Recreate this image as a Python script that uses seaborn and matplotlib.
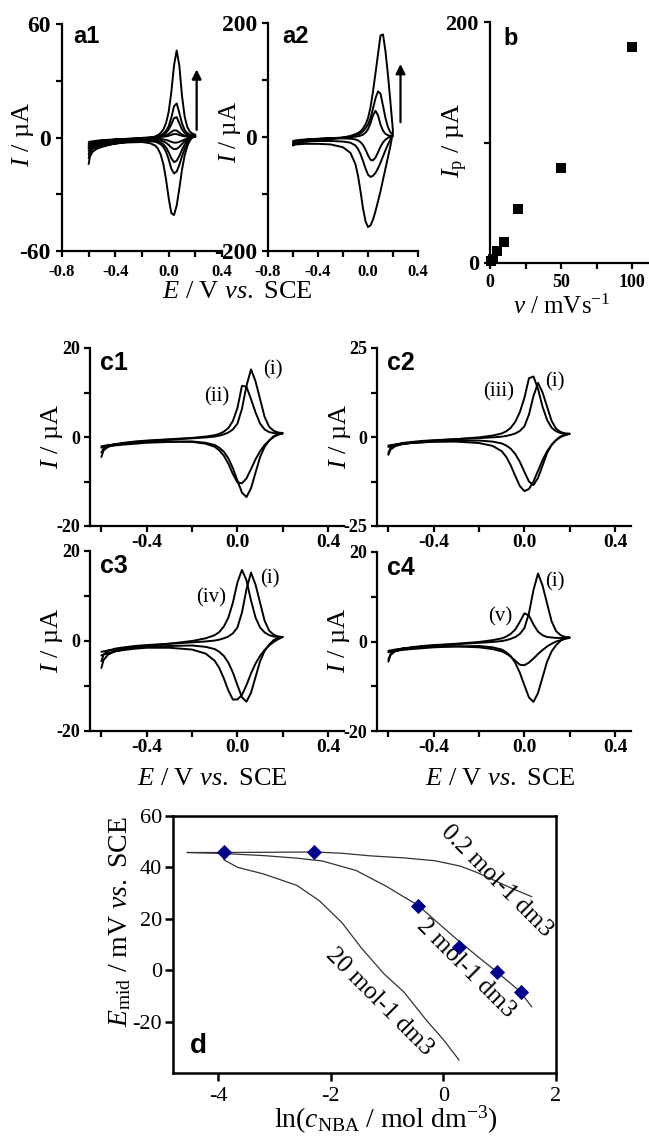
import matplotlib
matplotlib.use("Agg")
import matplotlib.pyplot as plt
import pandas as pd
import seaborn as sns

# ---------------------------------------------------------------- data
# potential grid of the scans (V vs. SCE); currents below are read on it
E_SCAN = [-0.60, -0.59, -0.57, -0.54, -0.50, -0.45, -0.40, -0.30, -0.20, -0.14,
          -0.10, -0.08, -0.06, -0.04, -0.02, 0.00, 0.02, 0.04, 0.06, 0.08,
          0.10, 0.12, 0.14, 0.16, 0.18, 0.20]
# forward branches listed from -0.60 to 0.20, reverse branches from 0.20 to -0.60 (µA)
V1_FWD = [-4.5, -3.4, -2.7, -2.2, -1.8, -1.4, -1.1, -0.6, -0.2, 0.0, 0.1, 0.2, 0.3, 0.4, 0.6, 0.9, 1.4, 1.8, 1.8, 1.3, 0.9, 0.6, 0.5, 0.4, 0.4, 0.4]
V1_REV = [0.4, 0.1, -0.2, -0.6, -1.1, -1.7, -2.3, -2.7, -2.7, -2.3, -1.7, -1.3, -1.0, -0.8, -0.7, -0.6, -0.6, -0.6, -0.8, -1.0, -1.2, -1.4, -1.7, -2.0, -2.2, -2.4]
V2_FWD = [-6, -4.5, -3.5, -2.8, -2.3, -1.8, -1.4, -0.8, -0.3, 0.0, 0.2, 0.3, 0.5, 0.8, 1.2, 1.9, 2.9, 3.8, 3.7, 2.6, 1.6, 1.0, 0.7, 0.6, 0.6, 0.6]
V2_REV = [0.6, 0.2, -0.3, -1.0, -2.0, -3.4, -5.0, -6.0, -6.2, -5.3, -3.9, -2.8, -2.1, -1.7, -1.4, -1.2, -1.0, -1.0, -1.2, -1.5, -1.8, -2.1, -2.5, -2.9, -3.2, -3.4]
V5_FWD = [-9, -6.5, -5.0, -4.0, -3.3, -2.6, -2.0, -1.2, -0.5, -0.1, 0.2, 0.5, 0.9, 1.5, 2.5, 4.2, 7.0, 10.2, 10.8, 7.5, 4.3, 2.4, 1.5, 1.1, 0.9, 0.8]
V5_REV = [0.8, 0.2, -0.6, -1.8, -3.7, -6.5, -9.8, -12.3, -13.0, -11.0, -7.8, -5.2, -3.6, -2.7, -2.1, -1.8, -1.5, -1.4, -1.6, -2.0, -2.3, -2.7, -3.2, -3.7, -4.1, -4.4]
V10_FWD = [-11, -8, -6.0, -4.8, -4.0, -3.2, -2.5, -1.5, -0.7, -0.2, 0.3, 0.7, 1.2, 2.0, 3.5, 6.0, 10.5, 16.5, 18.0, 13.0, 7.5, 4.0, 2.3, 1.5, 1.2, 1.0]
V10_REV = [1.0, 0.2, -1.0, -3.0, -6.0, -10.0, -14.5, -18.0, -19.0, -16.5, -11.5, -7.5, -5.0, -3.6, -2.8, -2.3, -1.9, -1.7, -2.0, -2.5, -2.9, -3.4, -4.0, -4.6, -5.2, -5.6]
V20_FWD = [-14, -10, -7.5, -6.0, -5.0, -4.0, -3.2, -2.0, -1.0, -0.2, 0.6, 1.3, 2.4, 4.2, 7.5, 13.5, 24, 38, 46, 38, 22, 11, 5.5, 3.0, 2.0, 1.5]
V20_REV = [1.5, 0.5, -1.5, -4.5, -9.5, -17, -27, -36, -41, -40, -32, -22, -14, -9.0, -6.0, -4.3, -3.0, -2.4, -2.6, -3.2, -3.7, -4.3, -5.0, -5.8, -6.5, -7.0]
V50_FWD = [-10, -8, -7, -6, -5.5, -5, -4.3, -3, -1, 1, 3, 4.5, 6.5, 10, 15, 22, 33, 50, 68, 80, 76, 55, 33, 17, 8, 4]
V50_REV = [4, -4, -13, -23, -34, -45, -55, -63, -68, -70, -66, -55, -42, -30, -21, -15, -10, -8, -7, -7, -7.5, -8, -8.5, -9, -9.5, -10]
V100_FWD = [-15, -12, -10, -9, -8, -7, -6, -4, -1, 2, 5, 7, 10, 15, 22, 33, 52, 80, 112, 145, 178, 180, 150, 108, 60, 10]
V100_REV = [10, -15, -35, -55, -75, -95, -113, -130, -145, -155, -158, -148, -125, -95, -68, -48, -28, -18, -13, -12, -12, -12, -12.5, -13, -13.5, -14]

# c panels: curves (i)-(v)
CI_FWD = [-4.5, -3.0, -2.2, -1.7, -1.4, -1.1, -0.9, -0.6, -0.3, -0.1, 0.1, 0.3, 0.6, 1.0, 1.7, 3.0, 6.3, 11.5, 15.2, 12.5, 8.5, 4.5, 2.3, 1.4, 1.0, 0.9]
CI_REV = [0.9, 0.7, 0.2, -0.8, -2.2, -4.5, -8.0, -11.5, -13.5, -12.5, -9.8, -7.0, -4.8, -3.3, -2.4, -1.8, -1.3, -1.0, -1.1, -1.3, -1.5, -1.7, -1.9, -2.1, -2.3, -2.4]
CII_FWD = [-3.5, -2.6, -2.0, -1.6, -1.3, -1.0, -0.8, -0.5, -0.2, 0.1, 0.4, 0.7, 1.2, 2.0, 3.6, 6.5, 11.5, 11.3, 8.5, 5.5, 3.0, 1.7, 1.1, 0.9, 0.8, 0.8]
CII_REV = [0.8, 0.5, 0.0, -0.8, -1.8, -3.2, -5.0, -7.2, -9.3, -10.4, -10.2, -8.3, -6.0, -4.2, -3.0, -2.2, -1.5, -1.1, -1.0, -1.1, -1.3, -1.5, -1.7, -1.8, -2.0, -2.1]
CIII_FWD = [-5.0, -3.5, -2.6, -2.0, -1.6, -1.2, -1.0, -0.6, -0.1, 0.4, 1.0, 1.6, 2.6, 4.3, 7.0, 11.0, 16.5, 17.0, 13.5, 8.5, 4.8, 2.6, 1.6, 1.1, 0.9, 0.9]
CIII_REV = [0.9, 0.5, 0.0, -0.9, -2.2, -4.0, -6.5, -9.5, -12.5, -14.6, -15.2, -13.8, -11.0, -8.0, -5.6, -4.0, -2.5, -1.7, -1.3, -1.3, -1.5, -1.7, -2.0, -2.3, -2.6, -2.8]
CIV_FWD = [-6.0, -4.2, -3.0, -2.3, -1.8, -1.4, -1.1, -0.6, 0.0, 0.6, 1.3, 2.0, 3.2, 5.2, 8.5, 13.0, 15.8, 13.5, 9.0, 5.2, 3.0, 1.9, 1.3, 1.0, 0.9, 0.9]
CIV_REV = [0.9, 0.4, -0.2, -1.0, -2.0, -3.3, -5.0, -7.2, -9.8, -12.0, -13.0, -13.0, -11.0, -8.3, -6.0, -4.4, -2.8, -1.9, -1.5, -1.5, -1.7, -2.0, -2.3, -2.7, -3.0, -3.2]
CV_FWD = [-4.0, -2.8, -2.0, -1.6, -1.3, -1.0, -0.8, -0.5, -0.1, 0.3, 0.7, 1.1, 1.7, 2.7, 4.4, 6.3, 5.8, 3.8, 2.2, 1.4, 1.0, 0.9, 0.8, 0.8, 0.8, 0.8]
CV_REV = [0.8, 0.6, 0.3, 0.0, -0.5, -1.1, -1.9, -2.8, -3.8, -4.7, -5.3, -5.2, -4.3, -3.4, -2.7, -2.2, -1.7, -1.3, -1.1, -1.1, -1.2, -1.4, -1.6, -1.8, -2.0, -2.1]

# panel b: peak current vs scan rate
SCAN_RATE = [1, 2, 5, 10, 20, 50, 100]
PEAK_I = [1.8, 3.0, 9.7, 17.4, 45, 79, 179]

# panel d
D_PTS_X = [-3.9, -2.3, -0.45, 0.27, 0.95, 1.37]
D_PTS_Y = [46.0, 46.0, 24.8, 9.0, -0.8, -8.3]
D02_X = [-4.55, -3.9, -3.0, -2.3, -1.8, -1.3, -0.7, -0.15, 0.3, 0.6, 0.9, 1.2, 1.57]
D02_Y = [45.8, 45.8, 45.9, 46.0, 45.5, 44.5, 43.7, 42.6, 40.5, 38.0, 35.0, 32.0, 28.6]
D2_X = [-4.55, -3.9, -3.2, -2.6, -2.15, -1.55, -1.0, -0.7, -0.45, -0.1, 0.25, 0.6, 0.94, 1.36, 1.57]
D2_Y = [45.8, 45.4, 44.6, 43.6, 42.5, 38.8, 32.5, 28.5, 25.3, 18.5, 11.8, 5.5, -0.5, -8.2, -14.3]
D20_X = [-3.9, -3.65, -3.2, -2.6, -2.2, -1.8, -1.45, -1.05, -0.7, -0.3, 0.0, 0.28]
D20_Y = [43.0, 40.0, 37.5, 33.0, 27.0, 18.5, 8.5, -1.5, -8.5, -19.5, -27.0, -35.0]
D_CURVE_LABELS = ["0.2 mol-1 dm3", "2 mol-1 dm3", "20 mol-1 dm3"]

# tick values
A1_YT, A1_YM = [-60, 0, 60], [-30, 30]
A2_YT, A2_YM = [-200, 0, 200], [-100, 100]
A_XT, A_XM = [-0.8, -0.4, 0.0, 0.4], [-0.6, -0.2, 0.2]
B_XT, B_XM = [0, 50, 100], [25, 75]
B_YT, B_YM = [0, 200], [100]
C_XT, C_XM = [-0.4, 0.0, 0.4], [-0.6, -0.2, 0.2]
C20_YT, C20_YM = [-20, 0, 20], [-10, 10]
C25_YT, C25_YM = [-25, 0, 25], [-12.5, 12.5]
D_XT = [-4, -2, 0, 2]
D_YT = [-20, 0, 20, 40, 60]

# ---------------------------------------------------------------- style
sns.set_theme(style="ticks")
plt.rcParams["font.family"] = ["Liberation Serif", "DejaVu Serif"]
plt.rcParams["mathtext.fontset"] = "custom"
plt.rcParams["mathtext.rm"] = "Liberation Serif"
plt.rcParams["mathtext.it"] = "Liberation Serif:italic"
plt.rcParams["mathtext.bf"] = "Liberation Serif:bold"
plt.rcParams["axes.unicode_minus"] = False
plt.rcParams["text.color"] = "black"
plt.rcParams["axes.labelcolor"] = "black"
plt.rcParams["xtick.color"] = "black"
plt.rcParams["ytick.color"] = "black"
plt.rcParams["xtick.labelcolor"] = "black"
plt.rcParams["ytick.labelcolor"] = "black"

W, H = 649, 1137
fig = plt.figure(figsize=(W / 100, H / 100), dpi=100)


def add_ax(l, t, r, b):
    return fig.add_axes([l / W, 1 - b / H, (r - l) / W, (b - t) / H])


def ftext(x, y, s, **kw):
    fig.text(x / W, 1 - y / H, s, color="black", **kw)


def style_open(ax, lw=1.6):
    ax.set_facecolor("white")
    for side in ["top", "right"]:
        ax.spines[side].set_visible(False)
    for side in ["left", "bottom"]:
        ax.spines[side].set_linewidth(lw)
        ax.spines[side].set_color("black")
    ax.tick_params(which="both", direction="out", width=lw, length=4, colors="black")


def set_ticks(ax, xt, xm, yt, ym, xfs, yfs, xfmt="{:.1f}", weight="bold"):
    ax.set_xticks(xt, labels=[xfmt.format(v) for v in xt], fontsize=xfs,
                  fontweight=weight, color="black")
    if xm:
        ax.set_xticks(xm, minor=True)
    ax.set_yticks(yt, labels=[str(v) for v in yt], fontsize=yfs,
                  fontweight=weight, color="black")
    if ym:
        ax.set_yticks(ym, minor=True)


def cv(ax, fwd, rev, lw=1.4):
    df = pd.DataFrame({"E": E_SCAN + E_SCAN[::-1], "I": fwd + rev})
    sns.lineplot(data=df, x="E", y="I", sort=False, estimator=None, color="black",
                 lw=lw, ax=ax)
    ax.set_xlabel("")
    ax.set_ylabel("")


LETTER = dict(family=["Liberation Sans", "DejaVu Sans"], fontweight="bold")

# ---------------------------------------------------------------- a1
ax = add_ax(62, 24, 222, 251)
style_open(ax)
for f, r in [(V1_FWD, V1_REV), (V2_FWD, V2_REV), (V5_FWD, V5_REV),
             (V10_FWD, V10_REV), (V20_FWD, V20_REV)]:
    cv(ax, f, r)
ax.set_xlim(-0.8, 0.4)
ax.set_ylim(-60, 60)
set_ticks(ax, A_XT, A_XM, A1_YT, A1_YM, 12, 17)
ax.tick_params(axis="x", pad=5)
ax.tick_params(axis="y", pad=4)
ax.annotate("", xy=(0.21, 36), xytext=(0.21, 4),
            arrowprops=dict(arrowstyle="-|>", color="black", lw=1.6,
                            mutation_scale=14, shrinkA=0, shrinkB=0))
ftext(73, 43, "a1", fontsize=17, ha="left", va="baseline", **LETTER)
ftext(23, 134, r"$I$ / µA", fontsize=19, rotation=90, ha="center", va="center")

# ---------------------------------------------------------------- a2
ax = add_ax(268, 23, 418, 251)
style_open(ax)
for f, r in [(V20_FWD, V20_REV), (V50_FWD, V50_REV), (V100_FWD, V100_REV)]:
    cv(ax, f, r)
ax.set_xlim(-0.8, 0.4)
ax.set_ylim(-200, 200)
set_ticks(ax, A_XT, A_XM, A2_YT, A2_YM, 12, 17)
ax.tick_params(axis="x", pad=5)
ax.tick_params(axis="y", pad=4)
ax.annotate("", xy=(0.26, 128), xytext=(0.26, 26),
            arrowprops=dict(arrowstyle="-|>", color="black", lw=1.6,
                            mutation_scale=14, shrinkA=0, shrinkB=0))
ftext(282, 43, "a2", fontsize=17, ha="left", va="baseline", **LETTER)
ftext(230, 132, r"$I$ / µA", fontsize=18, rotation=90, ha="center", va="center")
ftext(237, 292, r"$E$ / V $vs.$ SCE", fontsize=19, ha="center", va="center")

# ---------------------------------------------------------------- b
ax = add_ax(490, 22, 648, 263)
style_open(ax)
sns.scatterplot(x=SCAN_RATE, y=PEAK_I, marker="s", s=42, color="black",
                edgecolor="black", linewidth=0, ax=ax, clip_on=False, zorder=5)
ax.set_xlim(0, 111)
ax.set_ylim(0, 200)
set_ticks(ax, B_XT, B_XM, B_YT, B_YM, 13, 16, xfmt="{:d}")
ax.tick_params(axis="x", pad=4)
ax.tick_params(axis="y", pad=4)
ftext(503, 45, "b", fontsize=17, ha="left", va="baseline", **LETTER)
ftext(455, 140, r"$I_{\mathrm{p}}$ / µA", fontsize=19, rotation=90, ha="center", va="center")
ftext(562, 307, r"$v$ / mVs$^{\mathrm{-1}}$", fontsize=18, ha="center", va="center")

# ---------------------------------------------------------------- c panels
c_specs = [
    # rect, curves, yticks, ylim, letter, letter pos, labels, ylabel pos, xlabel pos
    ((90, 348, 344, 526), [(CI_FWD, CI_REV), (CII_FWD, CII_REV)], (C20_YT, C20_YM), 20,
     "c1", (100, 370), [("(i)", 0.156, 15.2), ("(ii)", -0.089, 9.0)], (52, 436), None),
    ((377, 348, 631, 526), [(CI_FWD, CI_REV), (CIII_FWD, CIII_REV)], (C25_YT, C25_YM), 25,
     "c2", (387, 370), [("(iii)", -0.114, 12.6), ("(i)", 0.136, 15.4)], (340, 436), None),
    ((90, 551, 344, 731), [(CI_FWD, CI_REV), (CIV_FWD, CIV_REV)], (C20_YT, C20_YM), 20,
     "c3", (100, 573), [("(iv)", -0.116, 9.6), ("(i)", 0.142, 13.8)], (52, 640), (212, 779)),
    ((377, 552, 631, 731), [(CI_FWD, CI_REV), (CV_FWD, CV_REV)], (C20_YT, C20_YM), 20,
     "c4", (387, 575), [("(v)", -0.106, 5.5), ("(i)", 0.136, 13.3)], (339, 640), (500, 779)),
]
for rect, curves, (yt, ym), ymax, letter, lpos, labels, ylpos, xlpos in c_specs:
    ax = add_ax(*rect)
    style_open(ax)
    for f, r in curves:
        cv(ax, f, r)
    ax.set_xlim(-0.65, 0.47)
    ax.set_ylim(-ymax, ymax)
    set_ticks(ax, C_XT, C_XM, yt, ym, 14, 13)
    ax.tick_params(axis="x", pad=2)
    ax.tick_params(axis="y", pad=3)
    for s, x, y in labels:
        ax.text(x, y, s, fontsize=15, ha="center", va="center", color="black")
    ftext(lpos[0], lpos[1], letter, fontsize=18, ha="left", va="baseline", **LETTER)
    ftext(ylpos[0], ylpos[1], r"$I$ / µA", fontsize=19, rotation=90, ha="center", va="center")
    if xlpos is not None:
        ftext(xlpos[0], xlpos[1], r"$E$ / V $vs.$ SCE", fontsize=19, ha="center", va="center")

# ---------------------------------------------------------------- d
ax = add_ax(173, 816, 556, 1073)
ax.set_facecolor("white")
for side in ["top", "right", "left", "bottom"]:
    ax.spines[side].set_visible(True)
    ax.spines[side].set_linewidth(1.8)
    ax.spines[side].set_color("black")
ax.tick_params(which="both", direction="out", width=1.8, length=6, colors="black")
for xs, ys in [(D02_X, D02_Y), (D2_X, D2_Y), (D20_X, D20_Y)]:
    sns.lineplot(x=xs, y=ys, sort=False, estimator=None, color="#333333", lw=0.9, ax=ax)
sns.scatterplot(x=D_PTS_X, y=D_PTS_Y, marker="D", s=60, color="#00008B",
                edgecolor="#00008B", linewidth=0, ax=ax, zorder=5)
ax.set_xlim(-4.8, 2.0)
ax.set_ylim(-40, 60)
set_ticks(ax, D_XT, None, D_YT, None, 16, 16, xfmt="{:d}", weight="normal")
ax.tick_params(axis="x", pad=4)
ax.tick_params(axis="y", pad=2)
for s, x, y in zip(D_CURVE_LABELS, [0.95, 0.40, -1.13], [34.7, 0.5, -12.5]):
    ax.text(x, y, s, fontsize=18, rotation=-45, rotation_mode="anchor",
            ha="center", va="center", color="black")
ax.set_xlabel("")
ax.set_ylabel("")
ftext(190, 1053, "d", fontsize=20, ha="left", va="baseline", **LETTER)
ftext(120, 922, r"$E_{\mathrm{mid}}$ / mV $vs.$ SCE", fontsize=20, rotation=90,
      ha="center", va="center")
ftext(386, 1120, r"ln($c_{\mathrm{NBA}}$ / mol dm$^{\mathrm{-3}}$)", fontsize=20,
      ha="center", va="center")

fig.savefig("out.png", dpi=100, facecolor="white")
